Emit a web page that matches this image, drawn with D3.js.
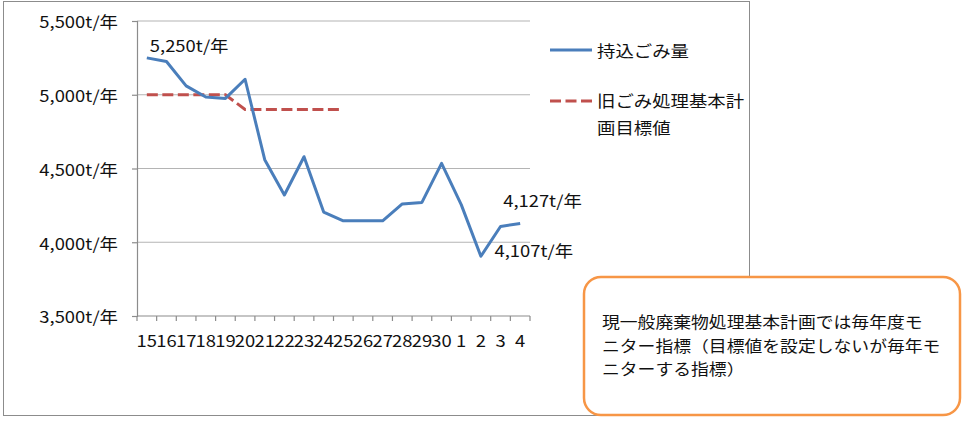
<!DOCTYPE html>
<html><head><meta charset="utf-8">
<script src="https://cdn.jsdelivr.net/npm/d3@7"></script>
<style>
body{margin:0;background:#fff;}
svg text{font-family:"Noto Sans CJK JP","Noto Sans",sans-serif;fill:#111;}
</style></head>
<body><svg id="c" width="966" height="421"></svg>
<script>
const categories = ["15","16","17","18","19","20","21","22","23","24","25","26","27","28","29","30","1","2","3","4"];
const broughtIn = [5250,5225,5060,4985,4975,5105,4560,4320,4580,4205,4145,4145,4145,4260,4270,4535,4255,3905,4107,4127];
const oldTarget = [5000,5000,5000,5000,5000,4900,4900,4900,4900,4900,4900];
const yTicks = [3500,4000,4500,5000,5500];
const seriesNames = ["持込ごみ量","旧ごみ処理基本計","画目標値"];
const annotations = [
  {i:0, text:"5,250t/年", dx:3, dy:-13},
  {i:19, text:"4,127t/年", dx:-17, dy:-23},
  {i:18, text:"4,107t/年", dx:-6, dy:24}
];
const noteLines = ["現一般廃棄物処理基本計画では毎年度モ","ニター指標（目標値を設定しないが毎年モ","ニターする指標）"];

const SX = 1.15, FS = 16;
const svg = d3.select("#c");
const blue = "#4a7ebb", red = "#c0504d";

function stext(g, x, y, str, anchor="start", fs=FS){
  return g.append("text")
    .attr("transform", `translate(${x},${y}) scale(${SX},1)`)
    .attr("text-anchor", anchor)
    .attr("dominant-baseline","central")
    .style("font-size", fs+"px")
    .text(str);
}

// outer chart border
svg.append("rect").attr("x",3.5).attr("y",1.5).attr("width",746).attr("height",414)
  .attr("fill","#fff").attr("stroke","#8c8c8c").attr("stroke-width",1);

const x = d3.scaleBand().domain(categories).range([137,530]).padding(0);
const y = d3.scaleLinear().domain([3500,5500]).range([316,21]);
const cx = c => x(c) + x.bandwidth()/2;

// gridlines
svg.append("g").selectAll("line").data(yTicks.filter(d=>d>3500)).join("line")
  .attr("x1",137).attr("x2",530).attr("y1",d=>y(d)).attr("y2",d=>y(d))
  .attr("stroke","#b4b4b4").attr("stroke-width",1.2);

// y axis
const yAxis = svg.append("g").attr("transform","translate(137,0)")
  .call(d3.axisLeft(y).tickValues(yTicks).tickSize(5).tickFormat(d=>d3.format(",")(d)+"t/年"));
yAxis.select(".domain").attr("stroke","#8c8c8c").attr("stroke-width",1.2);
yAxis.selectAll(".tick line").attr("stroke","#8c8c8c").attr("stroke-width",1.2);
yAxis.selectAll(".tick text").each(function(){
  const t = d3.select(this);
  t.attr("x",null).attr("dy",null)
   .attr("transform",`translate(-19,0) scale(${SX},1)`)
   .attr("dominant-baseline","central")
   .style("font-size",FS+"px").style("font-family",null).attr("fill","#111");
});
yAxis.attr("font-family",null).attr("font-size",null);

// x axis
const xg = svg.append("g");
xg.append("line").attr("x1",137).attr("x2",530).attr("y1",y(3500)).attr("y2",y(3500))
  .attr("stroke","#8c8c8c").attr("stroke-width",1.2);
const bounds = categories.map(c=>x(c)).concat([x.range()[1]]);
xg.selectAll("line.tk").data(bounds).join("line").attr("class","tk")
  .attr("x1",d=>d).attr("x2",d=>d).attr("y1",y(3500)).attr("y2",y(3500)+5)
  .attr("stroke","#8c8c8c").attr("stroke-width",1.2);
categories.forEach(c=>stext(xg, cx(c), 340, c, "middle"));

// series lines
const line = d3.line().x((d,i)=>cx(categories[i])).y(d=>y(d));
svg.append("path").datum(oldTarget).attr("d",line).attr("fill","none")
  .attr("stroke",red).attr("stroke-width",3).attr("stroke-dasharray","11,4.5");
svg.append("path").datum(broughtIn).attr("d",line).attr("fill","none")
  .attr("stroke",blue).attr("stroke-width",3).attr("stroke-linejoin","round");

// annotations
annotations.forEach(a=>{
  stext(svg, cx(categories[a.i])+a.dx, y(broughtIn[a.i])+a.dy, a.text, "start");
});

// legend
const lg = svg.append("g");
lg.append("line").attr("x1",550).attr("x2",592).attr("y1",50).attr("y2",50)
  .attr("stroke",blue).attr("stroke-width",3);
stext(lg, 597, 50, seriesNames[0]);
lg.append("line").attr("x1",550).attr("x2",592).attr("y1",101).attr("y2",101)
  .attr("stroke",red).attr("stroke-width",3).attr("stroke-dasharray","11,4.5");
stext(lg, 597, 100, seriesNames[1]);
stext(lg, 597, 127, seriesNames[2]);

// callout box
const box = svg.append("g");
box.append("rect").attr("x",584).attr("y",277).attr("width",376).attr("height",138)
  .attr("rx",17).attr("ry",17).attr("fill","#fff").attr("stroke","#f79646").attr("stroke-width",2.5);
noteLines.forEach((t,i)=>stext(box, 602, 322 + i*23.3, t, "start", 15.5));
</script></body></html>
